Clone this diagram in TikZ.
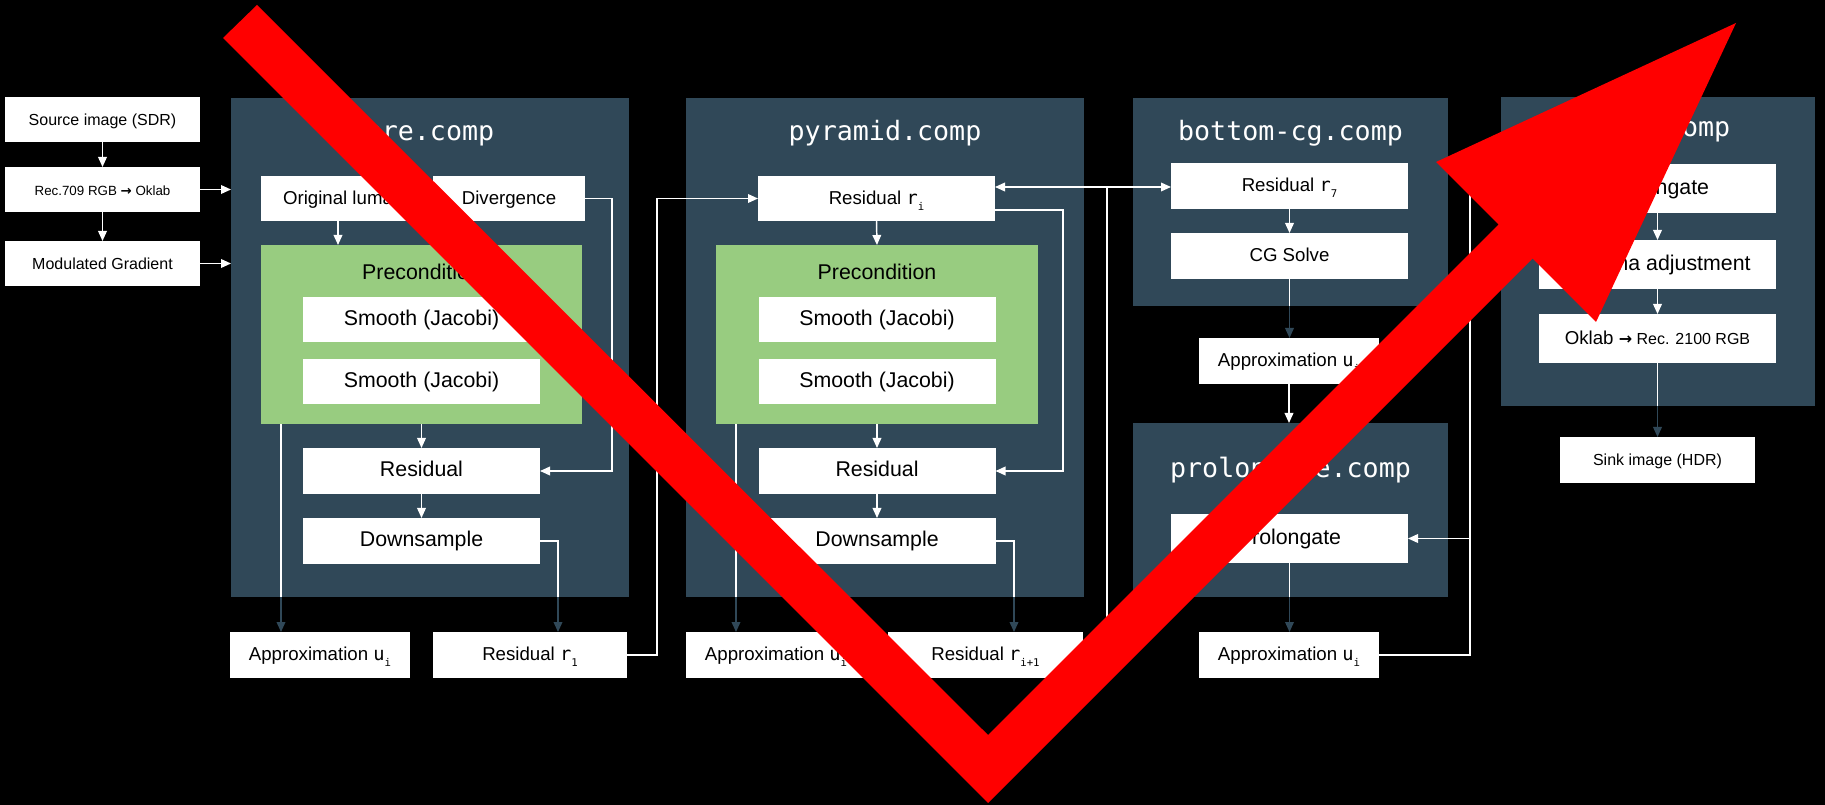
\documentclass[tikz,border=0pt]{standalone}
\usepackage{fontspec}
\setmainfont{Liberation Sans}
\setmonofont{DejaVu Sans Mono}
\newfontfamily\symfont{DejaVu Sans}
\usepackage{tikz}
\usetikzlibrary{arrows.meta, calc}
\usepackage{xcolor}

\definecolor{slate}{RGB}{48,72,88}
\definecolor{leaf}{RGB}{152,204,128}
\definecolor{stamp}{RGB}{255,0,0}

\newcommand\fs[1]{\fontsize{#1}{#1}\selectfont}
\newcommand\mvar[2]{{\ttfamily #1}\raisebox{-0.6ex}{\ttfamily\fs{8}#2}}
\newcommand\toarr{{\symfont\bfseries →}}

\begin{document}
\begin{tikzpicture}[x=0.75pt, y=-0.75pt,
    sz/.style 2 args={minimum width=#1*0.75pt, minimum height=#2*0.75pt, inner sep=0pt, outer sep=0pt},
    panel/.style={fill=slate},
    greenbox/.style={fill=leaf},
    wbox/.style={fill=white, text=black, text height=0.88em, text depth=0pt},
    ptitle/.style={text=white, font=\ttfamily\fs{20}, anchor=base, inner sep=0pt},
    wline/.style={draw=white, line width=1.1pt},
    dline/.style={draw=slate, line width=1.1pt},
    warr/.style={wline, -{Triangle[length=7.5pt,width=6.5pt]}},
    darr/.style={dline, -{Triangle[length=7.5pt,width=6.5pt]}}]

      \fill[black] (0,0) rectangle (1825,805);
      \useasboundingbox (0,0) rectangle (1825,805);

      \node[panel, sz={398}{499}] (p1) at (430,347.5) {};
      \node[panel, sz={398}{499}] (p2) at (885,347.5) {};
      \node[panel, sz={315}{208}] (p3) at (1290.5,202) {};
      \node[panel, sz={315}{174}] (p4) at (1290.5,510) {};
      \node[panel, sz={314}{309}] (p5) at (1658,251.5) {};

      \node[ptitle] (t1) at (430,141) {pre.comp};
      \node[ptitle] (t2) at (885,141) {pyramid.comp};
      \node[ptitle] (t3) at (1290.5,141) {bottom-cg.comp};
      \node[ptitle] (t4) at (1290.5,478) {prolongate.comp};
      \node[ptitle] (t5) at (1658,137) {post.comp};

      \node[wbox, sz={195}{45}, font=\fs{12}] (src) at (102.5,119.5) {Source image (SDR)};
      \node[wbox, sz={195}{45}, font=\fs{10}] (rec) at (102.5,189.5) {Rec.709 RGB \toarr{} Oklab};
      \node[wbox, sz={195}{45}, font=\fs{12}] (mod) at (102.5,263.5) {Modulated Gradient};

      \node[wbox, sz={154}{45}, font=\fs{14}] (luma) at (338,198.5) {Original luma};
      \node[wbox, sz={152}{45}, font=\fs{14}] (div) at (509,198.5) {Divergence};
      \node[greenbox, sz={321}{179}] (pre1) at (421.5,334.5) {};
      \node[anchor=base, inner sep=0pt, font=\fs{16}] (pl1) at (421.5,280) {Precondition};
      \node[wbox, sz={237}{45}, font=\fs{16}] (sm1a) at (421.5,319.5) {Smooth (Jacobi)};
      \node[wbox, sz={237}{45}, font=\fs{16}] (sm1b) at (421.5,382) {Smooth (Jacobi)};
      \node[wbox, sz={237}{46}, font=\fs{16}] (res1) at (421.5,471) {Residual};
      \node[wbox, sz={237}{46}, font=\fs{16}] (down1) at (421.5,541) {Downsample};
      \node[wbox, sz={180}{46}, font=\fs{14}] (apx1) at (320,655) {Approximation \mvar{u}{i}};
      \node[wbox, sz={194}{46}, font=\fs{14}] (r1) at (530,655) {Residual \mvar{r}{1}};

      \node[wbox, sz={237}{45}, font=\fs{14}] (ri) at (876.5,198.5) {Residual \mvar{r}{i}};
      \node[greenbox, sz={322}{179}] (pre2) at (877,334.5) {};
      \node[anchor=base, inner sep=0pt, font=\fs{16}] (pl2) at (877,280) {Precondition};
      \node[wbox, sz={237}{45}, font=\fs{16}] (sm2a) at (877,319.5) {Smooth (Jacobi)};
      \node[wbox, sz={237}{45}, font=\fs{16}] (sm2b) at (877,382) {Smooth (Jacobi)};
      \node[wbox, sz={237}{46}, font=\fs{16}] (res2) at (877,471) {Residual};
      \node[wbox, sz={237}{46}, font=\fs{16}] (down2) at (877,541) {Downsample};
      \node[wbox, sz={180}{46}, font=\fs{14}] (apx2) at (776,655) {Approximation \mvar{u}{i}};
      \node[wbox, sz={195}{46}, font=\fs{14}] (rip1) at (985.5,655) {Residual \mvar{r}{i+1}};

      \node[wbox, sz={237}{46}, font=\fs{14}] (r7) at (1289.5,186) {Residual \mvar{r}{7}};
      \node[wbox, sz={237}{46}, font=\fs{14}] (cg) at (1289.5,256) {CG Solve};
      \node[wbox, sz={180}{46}, font=\fs{14}] (apx3) at (1289,361) {Approximation \mvar{u}{i}};
      \node[wbox, sz={237}{49}, font=\fs{16}] (prol) at (1289.5,538.5) {Prolongate};
      \node[wbox, sz={180}{46}, font=\fs{14}] (apx4) at (1289,655) {Approximation \mvar{u}{i}};

      \node[wbox, sz={237}{49}, font=\fs{16}] (post1) at (1657.5,188.5) {Prolongate};
      \node[wbox, sz={237}{49}, font=\fs{16}] (post2) at (1657.5,264.5) {Chroma adjustment};
      \node[wbox, sz={237}{49}, font=\fs{14}] (post3) at (1657.5,338.5) {Oklab {\fs{12}\toarr{} Rec. 2100 RGB}};
      \node[wbox, sz={195}{46}, font=\fs{12}] (sink) at (1657.5,460) {Sink image (HDR)};

      \draw[warr] (src.south) -- (rec.north);
      \draw[warr] (rec.south) -- (mod.north);
      \draw[warr] (rec.east) -- (rec.east -| p1.west);
      \draw[warr] (mod.east) -- (mod.east -| p1.west);

      \draw[warr] (luma.south) -- (luma.south |- pre1.north);
      \draw[warr] (div.east) -- ++(27,0) |- (res1.east);
      \draw[warr] (pre1.south) -- (res1.north);
      \draw[warr] (res1.south) -- (down1.north);
      \coordinate (u1) at (281,424);
      \draw[wline] (u1) -- (u1 |- p1.south);
      \draw[darr] (u1 |- p1.south) -- (u1 |- apx1.north);
      \coordinate (d1) at (558,541);
      \draw[wline] (down1.east) -- (d1) -- (d1 |- p1.south);
      \draw[darr] (d1 |- p1.south) -- (d1 |- r1.north);
      \draw[warr] (r1.east) -- ++(30,0) |- (ri.west);

      \draw[warr] (ri.south) -- (pre2.north);
      \draw[warr] ($(ri.east)+(0,11.5)$) -- ++(68,0) |- (res2.east);
      \draw[warr] (pre2.south) -- (res2.north);
      \draw[warr] (res2.south) -- (down2.north);
      \coordinate (u2) at (736,424);
      \draw[wline] (u2) -- (u2 |- p2.south);
      \draw[darr] (u2 |- p2.south) -- (u2 |- apx2.north);
      \coordinate (d2) at (1014,541);
      \draw[wline] (down2.east) -- (d2) -- (d2 |- p2.south);
      \draw[darr] (d2 |- p2.south) -- (d2 |- rip1.north);
      \coordinate (jn) at (1107,187);
      \draw[wline] (rip1.east) -| (jn);
      \draw[warr] (jn) -- (jn -| ri.east);
      \draw[warr] (jn) -- (jn -| r7.west);

      \draw[warr] (r7.south) -- (cg.north);
      \draw[wline] (cg.south) -- (cg.south |- p3.south);
      \draw[darr] (cg.south |- p3.south) -- (cg.south |- apx3.north);
      \draw[warr] (apx3.south) -- (apx3.south |- p4.north);
      \draw[wline] (prol.south) -- (prol.south |- p4.south);
      \draw[darr] (prol.south |- p4.south) -- (prol.south |- apx4.north);
      \coordinate (rt) at (1470,655);
      \draw[warr] (apx4.east) -- (rt) |- (post1.west);
      \draw[warr] (rt |- prol.east) -- (prol.east);

      \draw[warr] (post1.south) -- (post2.north);
      \draw[warr] (post2.south) -- (post3.north);
      \draw[wline] (post3.south) -- (post3.south |- p5.south);
      \draw[darr] (post3.south |- p5.south) -- (sink.north);

      \fill[stamp] (223,38) -- (257,5) -- (988,735) -- (1498.5,224.5) -- (1436,162)
        -- (1736,23) -- (1596,322) -- (1532.5,258.5) -- (988,803) -- cycle;
    \end{tikzpicture}
\end{document}
